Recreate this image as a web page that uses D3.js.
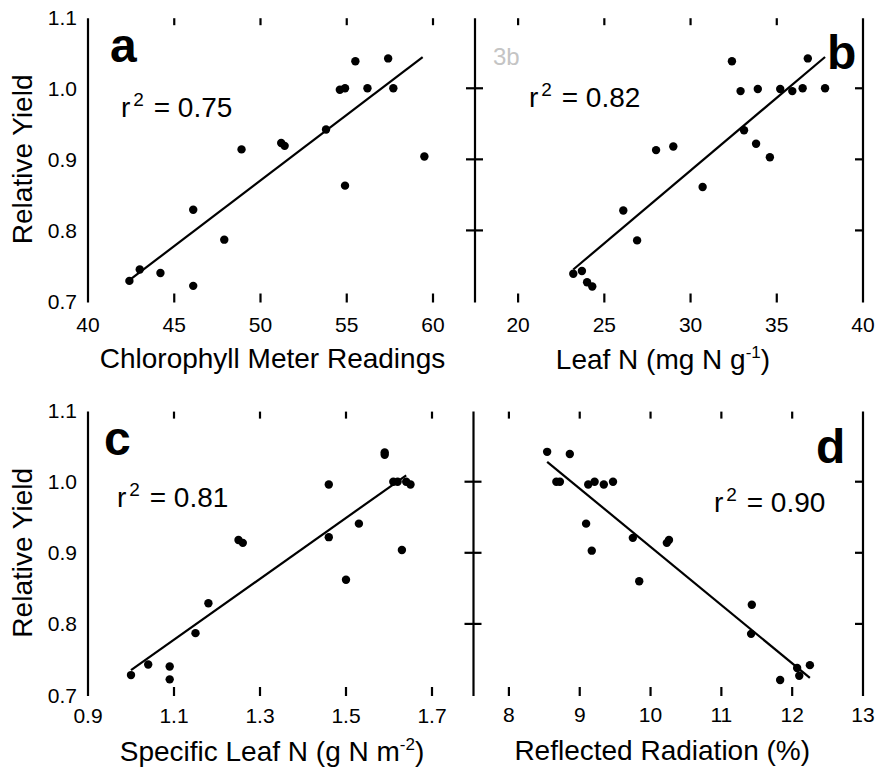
<!DOCTYPE html>
<meta charset="utf-8">
<style>
body { margin: 0; background: #fff; }
text { font-family: "Liberation Sans", Arial, sans-serif; fill: #000; }
.axis-line, .tick-mark { stroke: #000; stroke-width: 2.2; }
.fit { stroke: #000; stroke-width: 2.2; fill: none; }
</style>
<body>
<script src="https://d3js.org/d3.v7.min.js"></script>
<script>

// relative yield ticks (shared by all panels)
var yTicks = [0.7, 0.8, 0.9, 1.0, 1.1];

// a - chlorophyll meter readings
var chlX = [42.4, 43.0, 44.2, 46.1, 46.1, 47.9, 48.9, 51.2, 51.4, 53.8, 54.6, 54.9, 54.9, 55.5, 56.2, 57.4, 57.7, 59.5];
var chlY = [0.729, 0.745, 0.740, 0.722, 0.829, 0.787, 0.914, 0.923, 0.919, 0.942, 0.998, 1.000, 0.863, 1.038, 1.000, 1.042, 1.000, 0.904];
var chlFit = [[42.4, 0.730], [59.4, 1.044]];
var chlTicks = [40, 45, 50, 55, 60];

// b - leaf N
var leafX = [23.2, 23.7, 24.0, 24.3, 26.1, 26.9, 28.0, 29.0, 30.7, 32.4, 32.9, 33.1, 33.8, 33.9, 34.6, 35.2, 35.9, 36.5, 36.8, 37.8];
var leafY = [0.739, 0.743, 0.727, 0.721, 0.828, 0.786, 0.913, 0.918, 0.861, 1.038, 0.996, 0.941, 0.922, 0.999, 0.903, 0.999, 0.996, 1.000, 1.042, 1.000];
var leafFit = [[23.2, 0.745], [37.8, 1.044]];
var leafTicks = [20, 25, 30, 35, 40];

// c - specific leaf N
var slnX = [1.00, 1.04, 1.09, 1.09, 1.15, 1.18, 1.25, 1.26, 1.46, 1.46, 1.50, 1.53, 1.59, 1.59, 1.61, 1.62, 1.63, 1.64, 1.65];
var slnY = [0.728, 0.743, 0.740, 0.722, 0.787, 0.829, 0.918, 0.914, 0.996, 0.922, 0.862, 0.941, 1.041, 1.038, 1.000, 1.000, 0.904, 1.000, 0.996];
var slnFit = [[1.00, 0.735], [1.64, 1.009]];
var slnTicks = [0.9, 1.1, 1.3, 1.5, 1.7];

// d - reflected radiation
var reflX = [8.54, 8.86, 8.67, 8.72, 9.12, 9.21, 9.34, 9.47, 9.09, 9.17, 9.75, 9.84, 10.23, 10.26, 11.43, 11.42, 11.83, 12.07, 12.10, 12.25];
var reflY = [1.042, 1.039, 1.000, 1.000, 0.996, 1.000, 0.996, 1.000, 0.941, 0.903, 0.921, 0.860, 0.914, 0.918, 0.827, 0.786, 0.721, 0.738, 0.727, 0.742];
var reflFit = [[8.54, 1.028], [12.25, 0.724]];
var reflTicks = [8, 9, 10, 11, 12, 13];

var width = 875,
    height = 768;

var svg = d3.select("body").append("svg")
    .attr("width", width)
    .attr("height", height);

var panels = [
  { letter: "a", xs: chlX, ys: chlY, fit: chlFit, ticks: chlTicks, fmt: d3.format("d"),
    dom: [40, 60], rng: [88, 433], yr: [301.5, 17.2], left: "labels", right: false,
    r2: "0.75", r2x: 121, r2y: 117, lx: 110, ly: 62, tickY: 332, titleY: 368,
    title: ["Chlorophyll Meter Readings"] },
  { letter: "b", xs: leafX, ys: leafY, fit: leafFit, ticks: leafTicks, fmt: d3.format("d"),
    dom: [17.5, 40], rng: [475, 863], yr: [301.5, 17.2], left: "cross", right: true,
    r2: "0.82", r2x: 529, r2y: 107, lx: 827, ly: 69, tickY: 332, titleY: 369,
    title: ["Leaf N (mg N g", "-1", ")"] },
  { letter: "c", xs: slnX, ys: slnY, fit: slnFit, ticks: slnTicks, fmt: d3.format(".1f"),
    dom: [0.9, 1.7], rng: [88, 432], yr: [695, 410.6], left: "labels", right: false,
    r2: "0.81", r2x: 117, r2y: 507, lx: 104, ly: 455, tickY: 723, titleY: 761,
    title: ["Specific Leaf N (g N m", "-2", ")"] },
  { letter: "d", xs: reflX, ys: reflY, fit: reflFit, ticks: reflTicks, fmt: d3.format("d"),
    dom: [7.5, 13], rng: [473.5, 863], yr: [695, 410.6], left: "cross", right: true,
    r2: "0.90", r2x: 714, r2y: 512, lx: 816, ly: 463, tickY: 722, titleY: 760,
    title: ["Reflected Radiation (%)"] }
];

panels.forEach(function(p) {
  var x = d3.scaleLinear().domain(p.dom).range(p.rng);
  var y = d3.scaleLinear().domain([0.7, 1.1]).range(p.yr);
  var g = svg.append("g");
  var top = y(1.1) + 1, bot = y(0.7) + 1;

  // left axis line
  g.append("line").attr("class", "axis-line")
    .attr("x1", p.rng[0]).attr("x2", p.rng[0])
    .attr("y1", top).attr("y2", bot);

  if (p.right) {
    g.append("line").attr("class", "axis-line")
      .attr("x1", p.rng[1]).attr("x2", p.rng[1])
      .attr("y1", top).attr("y2", bot);
    g.selectAll(".rtick").data([0.8, 0.9, 1.0]).enter().append("line")
      .attr("class", "tick-mark")
      .attr("x1", p.rng[1] - 8).attr("x2", p.rng[1])
      .attr("y1", function(d) { return y(d); }).attr("y2", function(d) { return y(d); });
  }

  if (p.left == "cross") {
    g.selectAll(".ltick").data([0.8, 0.9, 1.0]).enter().append("line")
      .attr("class", "tick-mark")
      .attr("x1", p.rng[0] - 9).attr("x2", p.rng[0] + 8)
      .attr("y1", function(d) { return y(d); }).attr("y2", function(d) { return y(d); });
  } else {
    g.selectAll(".ylab").data(yTicks).enter().append("text")
      .attr("x", 77)
      .attr("y", function(d) { return y(d); })
      .attr("dy", "0.36em")
      .attr("text-anchor", "end")
      .style("font-size", "21px")
      .text(d3.format(".1f"));
    g.append("text")
      .attr("transform", "translate(32," + ((p.yr[0] + p.yr[1]) / 2) + ") rotate(-90)")
      .attr("text-anchor", "middle")
      .style("font-size", "28px")
      .text("Relative Yield");
  }

  // x tick marks at top and bottom (skip those sitting on an axis line)
  var inner = p.ticks.filter(function(t) {
    var px = x(t);
    return Math.abs(px - p.rng[0]) > 3 && !(p.right && Math.abs(px - p.rng[1]) < 3);
  });
  g.selectAll(".ttick").data(inner).enter().append("line")
    .attr("class", "tick-mark")
    .attr("x1", function(d) { return x(d); }).attr("x2", function(d) { return x(d); })
    .attr("y1", top).attr("y2", top + 7);
  g.selectAll(".btick").data(inner).enter().append("line")
    .attr("class", "tick-mark")
    .attr("x1", function(d) { return x(d); }).attr("x2", function(d) { return x(d); })
    .attr("y1", bot - 9).attr("y2", bot);

  g.selectAll(".xlab").data(p.ticks).enter().append("text")
    .attr("x", function(d) { return x(d); })
    .attr("y", p.tickY)
    .attr("text-anchor", "middle")
    .style("font-size", "21px")
    .text(p.fmt);

  // axis title, with superscript when needed
  var t = g.append("text")
    .attr("x", (p.rng[0] + p.rng[1]) / 2 + (p.left == "labels" ? 12 : -6))
    .attr("y", p.titleY)
    .attr("text-anchor", "middle")
    .style("font-size", "28px");
  t.append("tspan").text(p.title[0]);
  if (p.title.length > 1) {
    t.append("tspan").attr("dy", -11).style("font-size", "17px").text(p.title[1]);
    t.append("tspan").attr("dy", 11).text(p.title[2]);
  }

  // regression line
  g.append("path").attr("class", "fit")
    .attr("d", d3.line().x(function(d) { return x(d[0]); }).y(function(d) { return y(d[1]); })(p.fit));

  // points
  g.selectAll("circle").data(p.xs).enter().append("circle")
    .attr("cx", function(d) { return x(d); })
    .attr("cy", function(d, i) { return y(p.ys[i]); })
    .attr("r", 4.2)
    .attr("fill", "#000");

  // r squared
  var r = g.append("text").attr("x", p.r2x).attr("y", p.r2y).style("font-size", "28px");
  r.append("tspan").text("r");
  r.append("tspan").attr("dy", -11).attr("dx", 3).style("font-size", "19px").text("2");
  r.append("tspan").attr("dy", 11).attr("dx", 2).text(" = " + p.r2);

  // panel letter
  g.append("text").attr("x", p.lx).attr("y", p.ly)
    .style("font-size", "48px").style("font-weight", "bold")
    .text(p.letter);
});

// faint stamp in panel b
svg.append("text").attr("x", 493).attr("y", 65)
  .style("font-size", "24px").style("fill", "#c4c4c4")
  .text("3b");

</script>
